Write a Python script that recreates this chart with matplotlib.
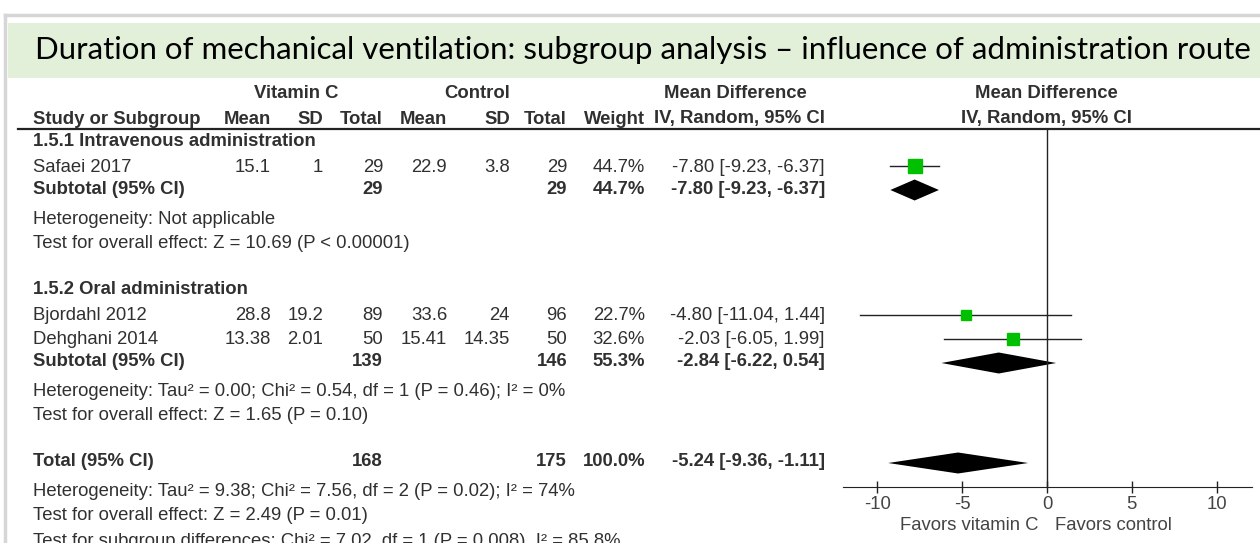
import matplotlib
matplotlib.use("Agg")
import matplotlib.pyplot as plt
from matplotlib.patches import Rectangle

plt.rcParams["font.family"] = ["Liberation Sans", "DejaVu Sans"]

title = "Duration of mechanical ventilation: subgroup analysis \u2013 influence of administration route"

# study rows
studies = ["Safaei 2017", "Bjordahl 2012", "Dehghani 2014"]
vitc_mean = [15.1, 28.8, 13.38]
vitc_sd = [1, 19.2, 2.01]
vitc_n = [29, 89, 50]
ctrl_mean = [22.9, 33.6, 15.41]
ctrl_sd = [3.8, 24, 14.35]
ctrl_n = [29, 96, 50]
weights = [44.7, 22.7, 32.6]
md = [-7.80, -4.80, -2.03]
ci_low = [-9.23, -11.04, -6.05]
ci_high = [-6.37, 1.44, 1.99]

# pooled rows: subtotal IV, subtotal oral, overall
pooled_labels = ["Subtotal (95% CI)", "Subtotal (95% CI)", "Total (95% CI)"]
pooled_vitc_n = [29, 139, 168]
pooled_ctrl_n = [29, 146, 175]
pooled_weight = [44.7, 55.3, 100.0]
pooled_md = [-7.80, -2.84, -5.24]
pooled_low = [-9.23, -6.22, -9.36]
pooled_high = [-6.37, 0.54, -1.11]

groups = ["1.5.1 Intravenous administration", "1.5.2 Oral administration"]
notes = [
    "Heterogeneity: Not applicable",
    "Test for overall effect: Z = 10.69 (P < 0.00001)",
    "Heterogeneity: Tau\u00b2 = 0.00; Chi\u00b2 = 0.54, df = 1 (P = 0.46); I\u00b2 = 0%",
    "Test for overall effect: Z = 1.65 (P = 0.10)",
    "Heterogeneity: Tau\u00b2 = 9.38; Chi\u00b2 = 7.56, df = 2 (P = 0.02); I\u00b2 = 74%",
    "Test for overall effect: Z = 2.49 (P = 0.01)",
    "Test for subgroup differences: Chi\u00b2 = 7.02, df = 1 (P = 0.008), I\u00b2 = 85.8%",
]
col_heads = ["Mean", "SD", "Total", "Mean", "SD", "Total", "Weight", "IV, Random, 95% CI"]
ticks = [-10, -5, 0, 5, 10]

# layout (pixels)
W, H = 1260, 543
col_x = [271, 323, 383, 447, 510, 567, 645, 825]
study_y = [167, 316, 340]
pooled_y = [189, 362, 462]
group_y = [142, 290]
note_y = [219, 243, 392, 416, 491, 516, 541]
zero_px, unit_px = 1047, 16.97
axis_y, top_y = 487, 129
txt = "#303030"
fs = 13.3

fig = plt.figure(figsize=(W / 100, H / 100), dpi=100)
ax = fig.add_axes([0, 0, 1, 1])
ax.set_xlim(0, W)
ax.set_ylim(H, 0)
ax.axis("off")

# frame + title band
ax.plot([5, 5], [15, H], color="#d6d6d6", lw=2.5)
ax.plot([5, W], [15, 15], color="#d6d6d6", lw=2.5)
ax.add_patch(Rectangle((8, 23), W - 8, 55, facecolor="#e2f0d9", lw=0))
t = ax.text(35, 50, title, ha="left", va="center", fontsize=26,
            family=["Lato", "DejaVu Sans"], color="black")
# squeeze the title so it spans the band like in the source
r = fig.canvas.get_renderer()
tw = t.get_window_extent(r).width
t.set_fontsize(26 * 1215 / tw)

# table headers
ax.text(296, 93, "Vitamin C", ha="center", va="center", fontsize=fs, weight="bold", color=txt)
ax.text(477, 93, "Control", ha="center", va="center", fontsize=fs, weight="bold", color=txt)
ax.text(735, 93, "Mean Difference", ha="center", va="center", fontsize=fs, weight="bold", color=txt)
ax.text(1046, 93, "Mean Difference", ha="center", va="center", fontsize=fs, weight="bold", color=txt)
ax.text(33, 119, "Study or Subgroup", ha="left", va="center", fontsize=fs, weight="bold", color=txt)
for x, h in zip(col_x, col_heads):
    ax.text(x, 119, h, ha="right", va="center", fontsize=fs, weight="bold", color=txt)
ax.text(1046, 119, "IV, Random, 95% CI", ha="center", va="center", fontsize=fs, weight="bold", color=txt)
ax.plot([18, W], [top_y, top_y], color="#222222", lw=1.6)

for g, y in zip(groups, group_y):
    ax.text(33, y, g, ha="left", va="center", fontsize=fs, weight="bold", color=txt)

for i, name in enumerate(studies):
    vals = [f"{vitc_mean[i]:g}", f"{vitc_sd[i]:g}", str(vitc_n[i]),
            f"{ctrl_mean[i]:g}", f"{ctrl_sd[i]:g}", str(ctrl_n[i]),
            f"{weights[i]:.1f}%", f"{md[i]:.2f} [{ci_low[i]:.2f}, {ci_high[i]:.2f}]"]
    y = study_y[i]
    ax.text(33, y, name, ha="left", va="center", fontsize=fs, color=txt)
    for x, v in zip(col_x, vals):
        ax.text(x, y, v, ha="right", va="center", fontsize=fs, color=txt)

for i, lab in enumerate(pooled_labels):
    y = pooled_y[i]
    ax.text(33, y, lab, ha="left", va="center", fontsize=fs, weight="bold", color=txt)
    vals = [(col_x[2], str(pooled_vitc_n[i])), (col_x[5], str(pooled_ctrl_n[i])),
            (col_x[6], f"{pooled_weight[i]:.1f}%"),
            (col_x[7], f"{pooled_md[i]:.2f} [{pooled_low[i]:.2f}, {pooled_high[i]:.2f}]")]
    for x, v in vals:
        ax.text(x, y, v, ha="right", va="center", fontsize=fs, weight="bold", color=txt)

for n, y in zip(notes, note_y):
    ax.text(33, y, n, ha="left", va="center", fontsize=fs, color=txt)

ax.text(1038, 525, "Favors vitamin C", ha="right", va="center", fontsize=fs, color="#444444")
ax.text(1055, 525, "Favors control", ha="left", va="center", fontsize=fs, color="#444444")

# forest panel
left_px, right_px = 843, 1252
fx = fig.add_axes([left_px / W, (H - axis_y) / H, (right_px - left_px) / W, (axis_y - top_y) / H])
fx.set_xlim((left_px - zero_px) / unit_px, (right_px - zero_px) / unit_px)
fx.set_ylim(axis_y, top_y)
fx.patch.set_alpha(0)
for s in ["top", "right", "left"]:
    fx.spines[s].set_visible(False)
fx.spines["bottom"].set_color("#222222")
fx.set_yticks([])
fx.set_xticks(ticks)
fx.set_xticklabels([str(t) for t in ticks])
fx.tick_params(axis="x", direction="inout", length=9, width=1, color="#222222",
               labelsize=fs, labelcolor="#444444", pad=2)
fx.axvline(0, color="#222222", lw=1)

for i in range(len(studies)):
    y = study_y[i] - 1
    fx.plot([ci_low[i], ci_high[i]], [y, y], color="#222222", lw=1)
    side = 14 * (weights[i] / max(weights)) ** 0.5
    fx.plot(md[i], y, marker="s", ms=side * 0.72, color="#00c000", mec="#00c000", ls="none")

for i in range(len(pooled_md)):
    y = pooled_y[i] + 1
    fx.fill([pooled_low[i], pooled_md[i], pooled_high[i], pooled_md[i]],
            [y, y - 10.5, y, y + 10.5], color="black", lw=0)

fig.savefig("out.png", dpi=100)
